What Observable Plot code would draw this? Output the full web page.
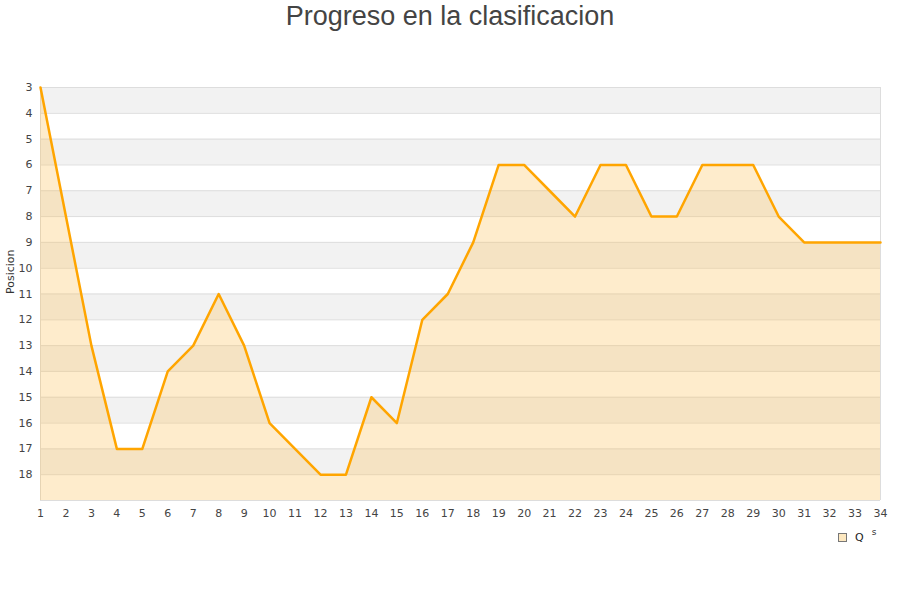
<!DOCTYPE html>
<html>
<head>
<meta charset="utf-8">
<script src="https://cdn.jsdelivr.net/npm/d3@7"></script>
<script src="https://cdn.jsdelivr.net/npm/@observablehq/plot@0.6"></script>
<style>
  body { margin: 0; background: #fff; width: 900px; height: 600px; position: relative; overflow: hidden; }
  #title { height: 45px; line-height: 32px; text-align: center; font-family: "Liberation Sans", Arial, sans-serif; font-size: 27px; color: #444; }
  #legend { position: absolute; left: 838px; top: 531px; font-family: "DejaVu Sans", sans-serif; font-size: 11px; color: #222; display: flex; align-items: center; }
  #legend .sw { width: 7px; height: 7px; background: #fde8c0; border: 1px solid #777; margin-right: 8px; }
  #legend .s { font-size: 9px; position: relative; top: -6px; margin-left: 8px; color: #333; }
</style>
</head>
<body>
<div id="title">Progreso en la clasificacion</div>
<div id="chart"></div>
<div id="legend"><span class="sw"></span><span>Q</span><span class="s">s</span></div>
<script>
const jornadas = d3.range(1, 35);
const posiciones = [3, 8, 13, 17, 17, 14, 13, 11, 13, 16, 17, 18, 18, 15, 16, 12, 11, 9, 6, 6, 7, 8, 6, 6, 8, 8, 6, 6, 6, 8, 9, 9, 9, 9];
const yTicks = d3.range(3, 19);
const gridLines = d3.range(3, 20);
const grayBands = [3, 5, 7, 9, 11, 13, 15, 17];
const yBottom = 19;

const data = jornadas.map((j, i) => ({j, p: posiciones[i]}));

const plot = Plot.plot({
  width: 900,
  height: 515,
  marginTop: 42,
  marginBottom: 60,
  marginLeft: 40,
  marginRight: 20,
  style: {fontFamily: "DejaVu Sans, sans-serif", fontSize: "11px", color: "#444", background: "#fff"},
  x: {domain: [1, 34], ticks: jornadas, tickSize: 0, tickPadding: 9, tickFormat: d => d, label: null},
  y: {domain: [3, 19], reverse: true, ticks: yTicks, tickSize: 0, tickPadding: 8, label: null},
  marks: [
    Plot.rectY(grayBands, {x1: 1, x2: 34, y1: d => d, y2: d => d + 1, fill: "#f2f2f2"}),
    Plot.ruleY(gridLines, {stroke: "#dddddd", strokeWidth: 1}),
    Plot.ruleX([1, 34], {stroke: "#dddddd", strokeWidth: 1}),
    Plot.areaY(data, {x: "j", y1: yBottom, y2: "p", fill: "rgb(252,194,90)", fillOpacity: 0.31}),
    Plot.lineY(data, {x: "j", y: "p", stroke: "#FFA500", strokeWidth: 2.5}),
    Plot.axisY({ticks: yTicks, tickSize: 0, tickPadding: 8, label: null, textAnchor: "end"}),
    Plot.axisX({ticks: jornadas, tickSize: 0, tickPadding: 9, label: null}),
    Plot.text(["Posicion"], {frameAnchor: "left", dx: -30, rotate: -90, fontSize: 11, fill: "#333"})
  ]
});
document.getElementById("chart").appendChild(plot);
</script>
</body>
</html>
